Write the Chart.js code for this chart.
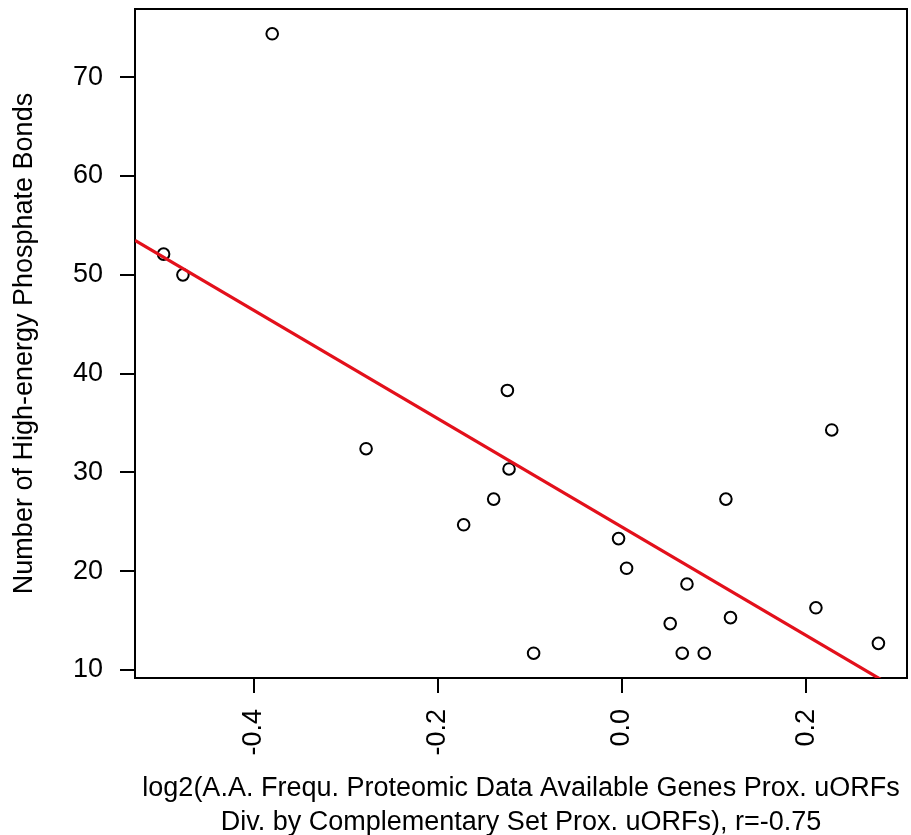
<!DOCTYPE html>
<html>
<head>
<meta charset="utf-8">
<title>High-energy Phosphate Bonds vs uORF A.A. frequency</title>
<script src="https://cdn.jsdelivr.net/npm/chart.js@4.4.1/dist/chart.umd.min.js"></script>
<style>
  body { margin: 0; background: #fff; }
  .chart-box { width: 911px; height: 835px; }
</style>
</head>
<body>
<div class="chart-box"><canvas id="scatterChart"></canvas></div>
<script>
// one point per amino acid: log2 frequency ratio (x) vs high-energy phosphate bonds (y)
const logRatio = [-0.380, -0.498, -0.477, -0.278, -0.1245, -0.1227, -0.1394, -0.172, -0.096, -0.0037,
                  0.005, 0.0706, 0.0524, 0.0655, 0.0894, 0.1129, 0.1179, 0.2279, 0.2107, 0.2786];
const phosphateBonds = [74.4, 52.1, 50.0, 32.4, 38.3, 30.35, 27.3, 24.7, 11.7, 23.3,
                        20.3, 18.7, 14.7, 11.7, 11.7, 27.3, 15.3, 34.3, 16.3, 12.7];

const xTicks = [-0.4, -0.2, 0.0, 0.2];
const yTicks = [10, 20, 30, 40, 50, 60, 70];

const xTitle = ['log2(A.A. Frequ. Proteomic Data Available Genes Prox. uORFs',
                'Div. by Complementary Set Prox. uORFs), r=-0.75'];
const yTitle = 'Number of High-energy Phosphate Bonds';

const fontFamily = "'Liberation Sans', Arial, sans-serif";


// least squares fit, like abline(lm(y ~ x)) in R
function linearFit(xs, ys) {
    const n = xs.length;
    const mx = xs.reduce((a, b) => a + b, 0) / n;
    const my = ys.reduce((a, b) => a + b, 0) / n;
    let sxy = 0, sxx = 0;
    xs.forEach((x, i) => {
        sxy += (x - mx) * (ys[i] - my);
        sxx += (x - mx) * (x - mx);
    });
    const slope = sxy / sxx;
    return { slope: slope, intercept: my - slope * mx };
}

// R pads the data range by 4% on each side
function paddedRange(vals) {
    const lo = Math.min(...vals);
    const hi = Math.max(...vals);
    const pad = (hi - lo) * 0.04;
    return [lo - pad, hi + pad];
}

const xRange = paddedRange(logRatio);
const yRange = paddedRange(phosphateBonds);
const fit = linearFit(logRatio, phosphateBonds);

const points = logRatio.map((x, i) => ({ x: x, y: phosphateBonds[i] }));
const fitLine = xRange.map(x => ({ x: x, y: fit.intercept + fit.slope * x }));

// frame around the plot region (bty = "o")
const plotBox = {
    id: 'plotBox',
    beforeDatasetsDraw(chart) {
        const { ctx, chartArea } = chart;
        ctx.save();
        ctx.strokeStyle = '#000';
        ctx.lineWidth = 2;
        ctx.strokeRect(chartArea.left, chartArea.top,
            chartArea.right - chartArea.left, chartArea.bottom - chartArea.top);
        ctx.restore();
    }
};

const ctx = document.getElementById('scatterChart').getContext('2d');
const scatterChart = new Chart(ctx, {
    type: 'scatter',
    data: {
        datasets: [{
            label: 'fit',
            data: fitLine,
            showLine: true,
            borderColor: '#E3101B',
            borderWidth: 3.2,
            pointRadius: 0,
            order: 0
        }, {
            label: 'amino acids',
            data: points,
            pointStyle: 'circle',
            pointRadius: 5.8,
            borderColor: '#000',
            backgroundColor: 'rgba(0,0,0,0)',
            borderWidth: 2,
            order: 1
        }]
    },
    options: {
        responsive: true,
        maintainAspectRatio: false,
        animation: false,
        layout: { autoPadding: false, padding: { top: 9, right: 4, left: 0, bottom: 0 } },
        plugins: {
            legend: { display: false },
            tooltip: { enabled: false }
        },
        scales: {
            x: {
                type: 'linear',
                min: xRange[0],
                max: xRange[1],
                afterBuildTicks: s => { s.ticks = xTicks.map(v => ({ value: v })); },
                afterFit: s => {
                    s.height = 157;
                    s.paddingLeft = 0;
                    s.paddingRight = 0;
                },
                border: { display: false },
                grid: { drawOnChartArea: false, color: '#000', lineWidth: 2, tickLength: 15 },
                ticks: {
                    minRotation: 90,
                    maxRotation: 90,
                    autoSkip: false,
                    padding: 16,
                    color: '#000',
                    font: { family: fontFamily, size: 27 },
                    callback: v => v.toFixed(1)
                },
                title: {
                    display: true,
                    text: xTitle,
                    color: '#000',
                    font: { family: fontFamily, size: 27, lineHeight: 1.26 },
                    padding: { top: 0, bottom: -5 }
                }
            },
            y: {
                type: 'linear',
                min: yRange[0],
                max: yRange[1],
                afterBuildTicks: s => { s.ticks = yTicks.map(v => ({ value: v })); },
                afterFit: s => {
                    s.width = 135;
                    s.paddingTop = 0;
                    s.paddingBottom = 0;
                },
                border: { display: false },
                grid: { drawOnChartArea: false, color: '#000', lineWidth: 2, tickLength: 15 },
                ticks: {
                    autoSkip: false,
                    padding: 17,
                    color: '#000',
                    font: { family: fontFamily, size: 27 }
                },
                title: {
                    display: true,
                    text: yTitle,
                    color: '#000',
                    font: { family: fontFamily, size: 27 },
                    padding: { top: 8, bottom: 0 }
                }
            }
        }
    },
    plugins: [plotBox]
});
</script>
</body>
</html>
